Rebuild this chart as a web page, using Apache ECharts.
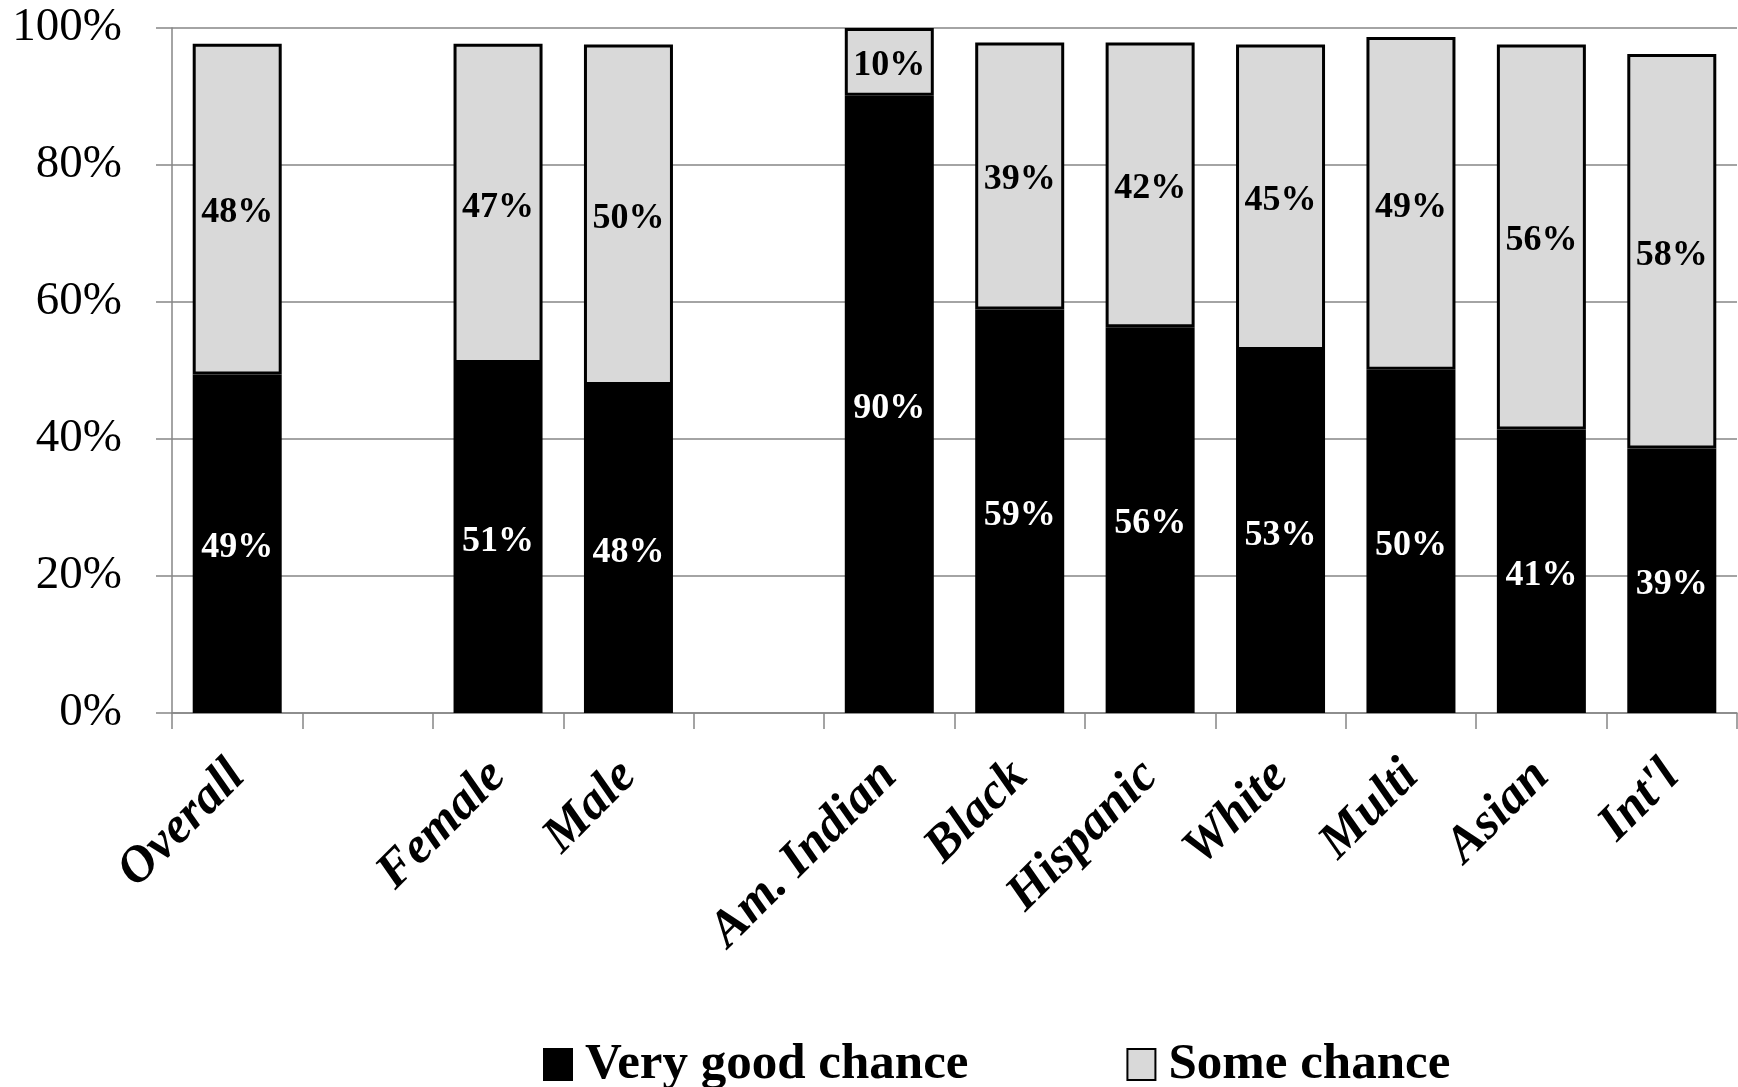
<!DOCTYPE html>
<html><head><meta charset="utf-8">
<script src="https://cdn.jsdelivr.net/npm/echarts@6/dist/echarts.min.js"></script>
<style>html,body{margin:0;padding:0;background:#fff}#c{width:1738px;height:1087px}</style>
</head><body><div id="c"></div>
<script>
const categories = ['Overall', '', 'Female', 'Male', '', 'Am. Indian', 'Black', 'Hispanic', 'White', 'Multi', 'Asian', "Int'l"];
const veryGood = [49.4, null, 51.1, 47.9, null, 90.1, 58.9, 56.3, 53.0, 50.1, 41.4, 38.6];
const someChance = [48.3, null, 46.6, 49.7, null, 9.9, 39.0, 41.6, 44.6, 48.6, 56.2, 57.6];
const yTicks = [0, 20, 40, 60, 80, 100];
const seriesNames = ['Very good chance', 'Some chance'];

const FONT = 'Liberation Serif';
const chart = echarts.init(document.getElementById('c'), null, {renderer: 'canvas'});
const fmt = p => (p.value == null ? '' : Math.round(p.value) + '%');
chart.setOption({
  animation: false,
  backgroundColor: '#fff',
  grid: {left: 172, right: 1, top: 28, bottom: 374, containLabel: false},
  legend: {
    left: 538, top: 1034, itemWidth: 28, itemHeight: 31, itemGap: 158,
    icon: 'rect',
    textStyle: {fontFamily: FONT, fontWeight: 'bold', fontSize: 51, color: '#000', padding: [0, 0, 0, 8]},
    data: seriesNames
  },
  xAxis: {
    type: 'category', data: categories,
    axisLine: {lineStyle: {color: '#868686', width: 1.5}},
    axisTick: {show: true, length: 16, interval: 0, lineStyle: {color: '#868686', width: 1.5}},
    axisLabel: {interval: 0, rotate: 45, margin: 56, fontFamily: FONT, fontWeight: 'bold', fontStyle: 'italic', fontSize: 51, color: '#000'}
  },
  yAxis: {
    type: 'value', min: yTicks[0], max: yTicks[yTicks.length - 1], interval: 20,
    axisLine: {show: true, lineStyle: {color: '#868686', width: 1.5}},
    axisTick: {show: true, inside: false, length: 16, lineStyle: {color: '#868686', width: 1.5}},
    splitLine: {lineStyle: {color: '#868686', width: 1.5}},
    axisLabel: {formatter: '{value}%', margin: 50, fontFamily: FONT, fontSize: 47, color: '#000'}
  },
  series: [
    {
      name: seriesNames[0], type: 'bar', stack: 's', data: veryGood, barWidth: 89,
      itemStyle: {color: '#000', borderColor: '#000', borderWidth: 3},
      label: {show: true, position: 'inside', offset: [0, 4], formatter: fmt, fontFamily: FONT, fontWeight: 'bold', fontSize: 36, color: '#fff'}
    },
    {
      name: seriesNames[1], type: 'bar', stack: 's', data: someChance, barWidth: 89,
      itemStyle: {color: '#d9d9d9', borderColor: '#000', borderWidth: 3},
      label: {show: true, position: 'inside', offset: [0, 4], formatter: fmt, fontFamily: FONT, fontWeight: 'bold', fontSize: 36, color: '#000'}
    }
  ]
});
</script></body></html>
